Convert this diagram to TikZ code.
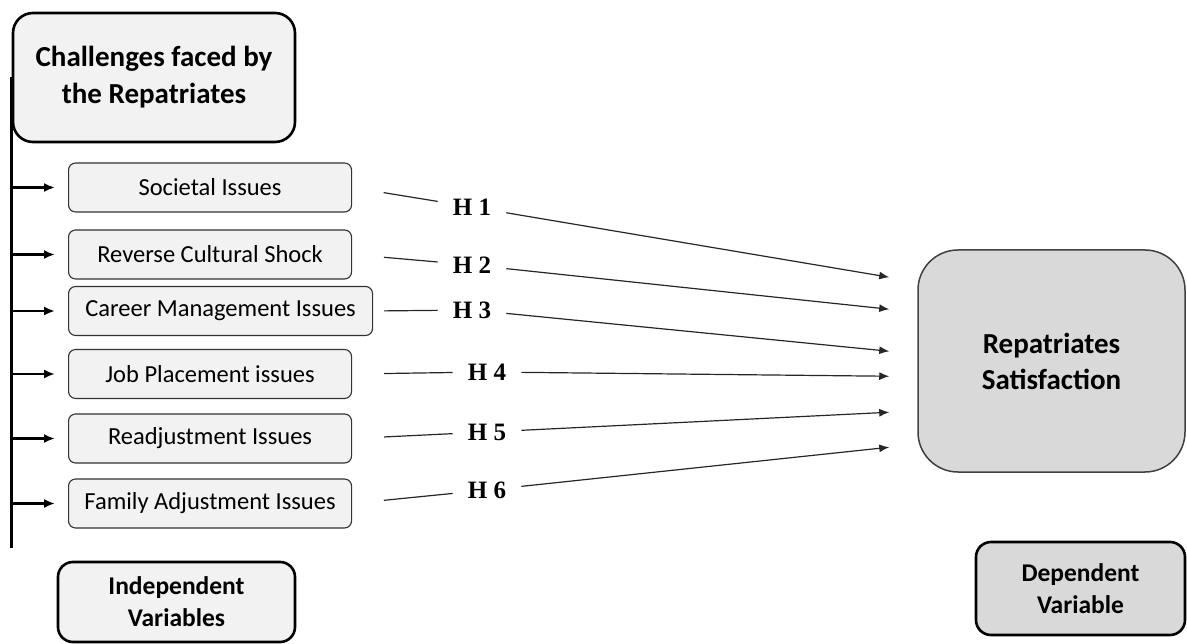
\documentclass[tikz,border=0pt]{standalone}
\usepackage{fontspec}
\setmainfont{Carlito}
\newfontfamily\hypfont{Liberation Serif}
\usetikzlibrary{arrows.meta}
\usetikzlibrary{calc}
\definecolor{lightbox}{HTML}{F2F2F2}
\definecolor{darkbox}{HTML}{D9D9D9}
\tikzstyle{varbox} = [draw=black!80, line width=1.1pt, fill=lightbox, rounded corners=7pt, minimum height=49pt, anchor=west, inner sep=0pt, font=\fontsize{24.5}{29}\selectfont]
\tikzstyle{bigbox} = [draw=black, line width=2.6pt, rounded corners=15pt, align=center, inner sep=0pt, font=\fontsize{25.5}{32}\selectfont\bfseries]
\tikzstyle{hyp} = [inner xsep=15pt, inner ysep=2pt, font=\fontsize{25}{29}\selectfont\hypfont\bfseries]
\tikzstyle{branch} = [line width=2.6pt, -{Latex[length=11pt,width=9pt]}]
\tikzstyle{link} = [line width=1.2pt, draw=black!85]
\tikzstyle{harrow} = [link, -{Latex[length=10pt,width=8pt]}]

\begin{document}
\begin{tikzpicture}[x=1pt,y=-1pt]
\useasboundingbox (0,0) rectangle (1187,644);

\node[bigbox, fill=lightbox, minimum width=282pt, minimum height=129pt, rounded corners=20pt, font=\fontsize{29}{37}\selectfont\bfseries] (chal) at (154,77.5) {Challenges faced by\\the Repatriates};
\node[bigbox, fill=lightbox, minimum width=237pt, minimum height=80pt] (indep) at (176.5,602) {Independent\\Variables};
\node[bigbox, fill=darkbox, draw=black!75, line width=1.5pt, rounded corners=40pt, minimum width=267pt, minimum height=222pt, font=\fontsize{29}{36}\selectfont\bfseries] (sat) at (1051.5,361) {Repatriates\\Satisfaction};
\node[bigbox, fill=darkbox, minimum width=209pt, minimum height=93pt] (dep) at (1080.5,588.5) {Dependent\\Variable};

% independent variables
\foreach \n/\t/\w/\y in {soc/Societal Issues/283/187.5, rev/Reverse Cultural Shock/283/254.5, car/Career Management Issues/304/311, job/Job Placement issues/283/374, rea/Readjustment Issues/283/438.5, fam/Family Adjustment Issues/283/503.5}{
	\node[varbox, minimum width=\w pt] (\n) at (68,\y) {\t};
}

\draw[line width=2.6pt] (chal.west) -- ($(chal.west |- fam.south)+(0,19)$);
\foreach \n in {soc,rev,car,job,rea,fam}{
	\draw[branch] (chal.west |- \n.west) -- ([xshift=-13pt]\n.west);
}

% hypotheses
\foreach \i/\x/\y in {1/472/207, 2/472/265, 3/472/310, 4/487/372, 5/487/432, 6/487/490}{
	\node[hyp] (h\i) at (\x,\y) {H \i};
}
\foreach \n/\s [count=\i] in {soc/32, rev/32, car/11, job/32, rea/32, fam/32}{
	\draw[link, shorten <=\s pt] (\n.east) -- (h\i);
}
\foreach \i/\dy in {1/28, 2/60, 3/102, 4/127, 5/163, 6/198}{
	\draw[harrow] (h\i) -- ($(sat.north west)+(-28,\dy)$);
}
\end{tikzpicture}
\end{document}
